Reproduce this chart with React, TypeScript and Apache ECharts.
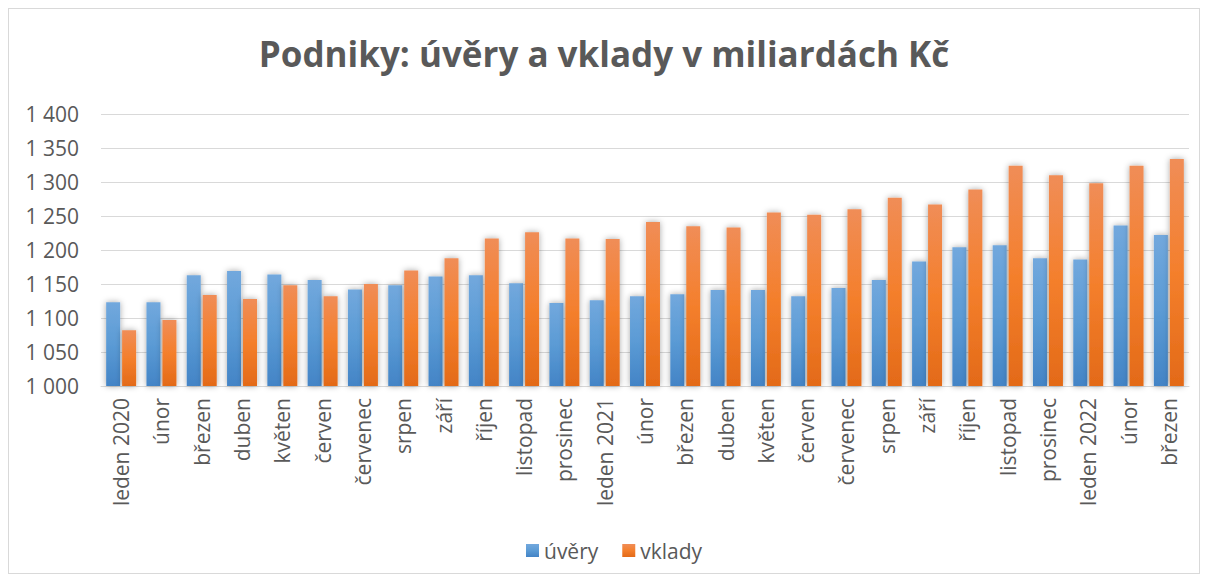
import React, { useEffect, useRef } from "react";
import * as echarts from "echarts";

const categories = [
  "leden 2020", "únor", "březen", "duben", "květen", "červen", "červenec", "srpen", "září", "říjen", "listopad", "prosinec",
  "leden 2021", "únor", "březen", "duben", "květen", "červen", "červenec", "srpen", "září", "říjen", "listopad", "prosinec",
  "leden 2022", "únor", "březen",
];
const uvery = [1123, 1123, 1163, 1169, 1164, 1156, 1142, 1148, 1161, 1163, 1151, 1122, 1126, 1132, 1135, 1141, 1141, 1132, 1144, 1156, 1183, 1204, 1207, 1188, 1186, 1236, 1222];
const vklady = [1082, 1097, 1134, 1128, 1148, 1132, 1150, 1170, 1188, 1217, 1226, 1217, 1216, 1241, 1235, 1233, 1255, 1252, 1260, 1277, 1267, 1289, 1324, 1310, 1298, 1324, 1334];
const seriesNames = ["úvěry", "vklady"];
const titleText = "Podniky: úvěry a vklady v miliardách Kč";

const FONT = "'Open Sans', Lato, sans-serif";
const GREY = "#595959";

const blueGrad = new echarts.graphic.LinearGradient(0, 0, 0, 1, [
  { offset: 0, color: "#72A8DD" },
  { offset: 0.5, color: "#5B9BD5" },
  { offset: 1, color: "#4384C6" },
]);
const orangeGrad = new echarts.graphic.LinearGradient(0, 0, 0, 1, [
  { offset: 0, color: "#F08D57" },
  { offset: 0.5, color: "#F47F2C" },
  { offset: 1, color: "#E36A18" },
]);

export default function App() {
  const ref = useRef<HTMLDivElement>(null);
  useEffect(() => {
    if (!ref.current) return;
    const chart = echarts.init(ref.current, null, { renderer: "svg" });
    chart.setOption({
      animation: false,
      backgroundColor: "#ffffff",
      title: {
        text: titleText,
        left: "center",
        top: 22,
        textStyle: { fontFamily: FONT, fontSize: 35, fontWeight: "bold", color: GREY },
      },
      legend: {
        top: 526,
        left: 512,
        itemWidth: 13,
        itemHeight: 13,
        itemGap: 24,
        icon: "rect",
        textStyle: { fontFamily: FONT, fontSize: 21, color: GREY },
        data: seriesNames,
      },
      grid: { left: 92, right: 10, top: 105, bottom: 187, containLabel: false },
      xAxis: {
        type: "category",
        data: categories,
        axisLine: { lineStyle: { color: "#d9d9d9", width: 1 } },
        axisTick: { show: false },
        axisLabel: {
          rotate: 90,
          interval: 0,
          margin: 12,
          fontFamily: FONT,
          fontSize: 21,
          color: GREY,
        },
      },
      yAxis: {
        type: "value",
        min: 1000,
        max: 1400,
        interval: 50,
        axisLine: { show: false },
        axisTick: { show: false },
        splitLine: { lineStyle: { color: "#d9d9d9", width: 1 } },
        axisLabel: {
          margin: 22,
          fontFamily: FONT,
          fontSize: 21,
          color: GREY,
          formatter: (v: number) => String(v).replace(/\B(?=(\d{3})+(?!\d))/g, " "),
        },
      },
      series: [
        {
          name: seriesNames[0],
          type: "bar",
          data: uvery,
          barWidth: 14,
          barGap: "14%",
          itemStyle: { color: blueGrad, shadowColor: "rgba(0,0,0,0.35)", shadowBlur: 6 },
        },
        {
          name: seriesNames[1],
          type: "bar",
          data: vklady,
          barWidth: 14,
          barGap: "14%",
          itemStyle: { color: orangeGrad, shadowColor: "rgba(0,0,0,0.35)", shadowBlur: 6 },
        },
      ],
    });
    return () => chart.dispose();
  }, []);
  return (
    <div
      ref={ref}
      style={{ width: 1192, height: 566, border: "1px solid #d9d9d9", boxSizing: "border-box" }}
    />
  );
}
